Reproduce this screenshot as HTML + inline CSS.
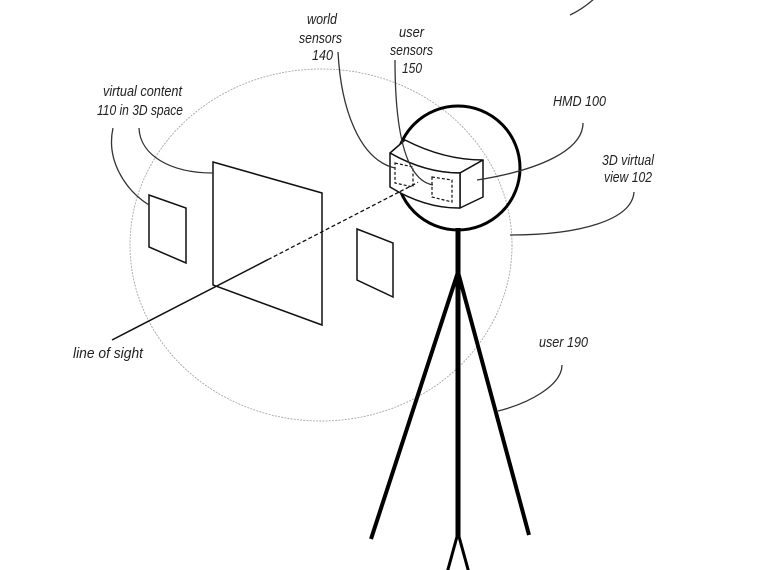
<!DOCTYPE html>
<html>
<head>
<meta charset="utf-8">
<style>
  html,body{margin:0;padding:0;background:#fff;}
  svg{display:block;}
  text{font-family:"Liberation Sans",Arial,sans-serif;font-style:italic;font-size:15px;fill:#222;}
</style>
</head>
<body>
<svg width="757" height="570" viewBox="0 0 757 570" xmlns="http://www.w3.org/2000/svg">
  <rect width="757" height="570" fill="#fff"/>

  <!-- 3D virtual view dotted ellipse -->
  <ellipse cx="321" cy="245" rx="191" ry="176" fill="none" stroke="#a8a8a8" stroke-width="0.9" stroke-dasharray="2 1.2"/>

  <!-- virtual content panels -->
  <polygon points="149,195 186,208 186,263 149,247" fill="none" stroke="#111" stroke-width="1.5"/>
  <polygon points="213,162 322,193 322,325 213,285" fill="none" stroke="#111" stroke-width="1.5"/>
  <polygon points="357,229 393,243 393,297 357,280" fill="none" stroke="#111" stroke-width="1.5"/>

  <!-- line of sight -->
  <line x1="112" y1="340" x2="268" y2="259.6" stroke="#111" stroke-width="1.5"/>
  <line x1="268" y1="259.6" x2="418" y2="182.3" stroke="#111" stroke-width="1.3" stroke-dasharray="4 2.5"/>

  <!-- user body -->
  <line x1="458" y1="228" x2="458" y2="537" stroke="#000" stroke-width="5"/>
  <line x1="458" y1="272" x2="371" y2="539" stroke="#000" stroke-width="4"/>
  <line x1="458" y1="272" x2="529" y2="535" stroke="#000" stroke-width="4"/>
  <line x1="458" y1="533" x2="447" y2="573" stroke="#000" stroke-width="3"/>
  <line x1="458" y1="533" x2="469" y2="573" stroke="#000" stroke-width="3"/>

  <!-- head -->
  <circle cx="458" cy="168" r="62" fill="none" stroke="#000" stroke-width="3"/>

  <!-- HMD box -->
  <path d="M390,153 L405,140 Q444,160 483,160 L460,173 Q425,173 390,153 Z" fill="#fff" stroke="#111" stroke-width="1.5" stroke-linejoin="round"/>
  <path d="M460,173 L483,160 L483,197 L460,208 Z" fill="#fff" stroke="#111" stroke-width="1.5" stroke-linejoin="round"/>
  <path d="M390,153 Q425,173 460,173 L460,208 Q425,208.5 390,187 Z" fill="#fff" stroke="#111" stroke-width="1.5" stroke-linejoin="round"/>
  <!-- sensors -->
  <polygon points="395,163 413,167 413,187 395,183" fill="none" stroke="#111" stroke-width="1.2" stroke-dasharray="3 2"/>
  <polygon points="432,177 452,180 452,202 432,197" fill="none" stroke="#111" stroke-width="1.2" stroke-dasharray="3 2"/>
  <line x1="400" y1="191.6" x2="418" y2="182.3" stroke="#111" stroke-width="1.3" stroke-dasharray="4 2.5"/>

  <!-- leader lines -->
  <g fill="none" stroke="#333" stroke-width="1.3">
    <path d="M338,52 C341,110 360,160 395,168"/>
    <path d="M395,60 C395,130 405,180 433,185"/>
    <path d="M583,123 C583,150 540,170 477,180"/>
    <path d="M634,192 C632,220 580,235 510,235"/>
    <path d="M113,128 C106,160 125,190 149,205"/>
    <path d="M139,128 C140,155 170,173 213,173"/>
    <path d="M562,365 C562,385 530,403 498,411"/>
    <path d="M570,15 Q583,9 595,-2"/>
  </g>

  <!-- labels -->
  <text x="307" y="24" textLength="30" lengthAdjust="spacingAndGlyphs">world</text>
  <text x="299" y="43" textLength="43" lengthAdjust="spacingAndGlyphs">sensors</text>
  <text x="312" y="60" textLength="21" lengthAdjust="spacingAndGlyphs">140</text>

  <text x="399" y="37" textLength="25" lengthAdjust="spacingAndGlyphs">user</text>
  <text x="390" y="55" textLength="43" lengthAdjust="spacingAndGlyphs">sensors</text>
  <text x="402" y="73" textLength="20" lengthAdjust="spacingAndGlyphs">150</text>

  <text x="553" y="106" textLength="53" lengthAdjust="spacingAndGlyphs">HMD 100</text>

  <text x="602" y="165" textLength="52" lengthAdjust="spacingAndGlyphs">3D virtual</text>
  <text x="604" y="182" textLength="48" lengthAdjust="spacingAndGlyphs">view 102</text>

  <text x="103" y="96" textLength="79" lengthAdjust="spacingAndGlyphs">virtual content</text>
  <text x="97" y="115" textLength="86" lengthAdjust="spacingAndGlyphs">110 in 3D space</text>

  <text x="73" y="358" textLength="70" lengthAdjust="spacingAndGlyphs">line of sight</text>

  <text x="539" y="347" textLength="49" lengthAdjust="spacingAndGlyphs">user 190</text>
</svg>
</body>
</html>
